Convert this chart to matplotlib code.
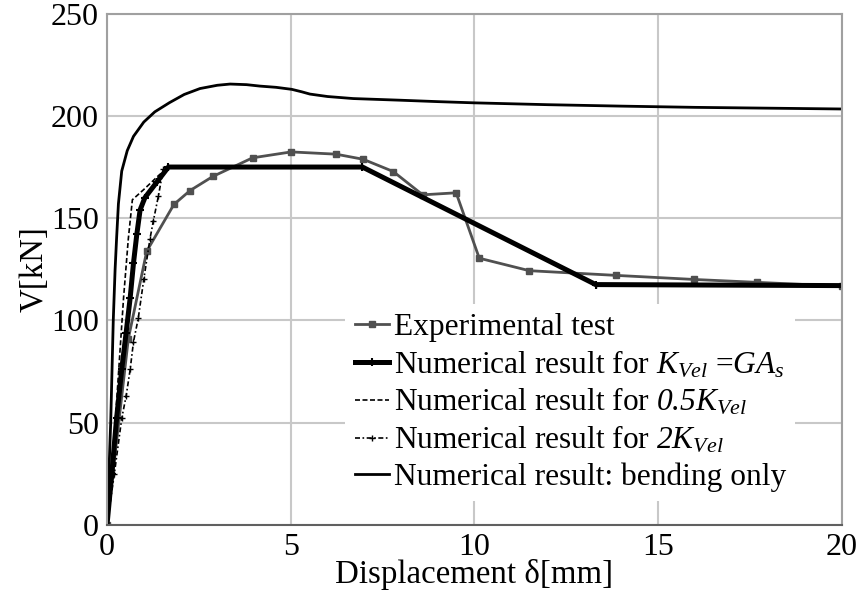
import matplotlib
matplotlib.use("Agg")
import matplotlib.pyplot as plt

plt.rcParams['font.family'] = ['Liberation Serif', 'DejaVu Serif']
plt.rcParams['mathtext.fontset'] = 'custom'
# math only appears in the legend, where everything is italic
plt.rcParams['mathtext.rm'] = 'Liberation Serif:italic'
plt.rcParams['mathtext.it'] = 'Liberation Serif:italic'

# experimental test
exp_x = [0, 0.58, 1.08, 1.82, 2.26, 2.88, 3.96, 5.01, 6.23, 6.97, 7.79, 8.59,
         9.50, 10.13, 11.49, 13.85, 15.98, 17.68, 20.0]
exp_v = [0, 91, 133.8, 156.7, 163.5, 170.4, 179.5, 182.4, 181.3, 178.8, 172.8, 161.4,
         162.4, 130.4, 124.3, 122.0, 120.0, 118.6, 116.7]

# numerical, K_Vel = GA_s
k_x = [0, 0.13, 0.26, 0.40, 0.52, 0.63, 0.72, 0.81, 0.90, 1.03, 1.35, 1.67,
       6.95, 13.3, 20.0]
k_v = [0, 25, 52, 76, 94, 111, 128, 142, 154, 160, 167.5, 175,
       175, 117.5, 117.0]

# numerical, 0.5 K_Vel
half_x = [0, 0.23, 0.45, 0.58, 0.69, 1.0, 1.40, 1.67, 6.95, 13.3, 20.0]
half_v = [0, 52, 111, 140, 159, 164, 170.8, 175, 175, 117.5, 117.0]

# numerical, 2 K_Vel
dbl_x = [0, 0.2, 0.4, 0.52, 0.63, 0.72, 0.85, 1.0, 1.17, 1.26, 1.40, 1.53, 1.67,
         6.95, 13.3, 20.0]
dbl_v = [0, 25, 52, 63, 76, 89.5, 101, 120, 140, 148.6, 161, 174, 175,
         175, 117.5, 117.0]

# numerical, bending only
bend_x = [0, 0.1, 0.17, 0.22, 0.26, 0.31, 0.4, 0.55, 0.72, 1.0, 1.3, 1.7, 2.1, 2.53,
          3.0, 3.35, 3.8, 4.16, 4.6, 5.03, 5.3, 5.52, 6.0, 6.7, 7.97, 9.0, 10.0,
          12.0, 14.0, 16.0, 18.0, 20.0]
bend_v = [0, 50, 100, 125, 140, 157, 173, 183, 190, 197, 202, 206.5, 210.5, 213.4,
          215, 215.6, 215.3, 214.6, 214, 213, 211.8, 210.7, 209.5, 208.5, 207.7,
          207, 206.4, 205.5, 204.8, 204.2, 203.8, 203.4]

fig = plt.figure(figsize=(8.61, 5.97), dpi=100)
ax = fig.add_axes([0.1243, 0.121, 0.8536, 0.856])

ax.plot(exp_x, exp_v, color='#505050', lw=2, marker='s', ms=5,
        label='Experimental test')
ax.plot(half_x, half_v, color='black', lw=1.2, ls=(0, (3, 1.5)),
        label=r'Numerical result for $0.5K_{Vel}$')
ax.plot(dbl_x, dbl_v, color='black', lw=1.2, ls=(0, (3, 1.5, 1, 1.5)),
        marker='+', ms=5, mew=1,
        label=r'Numerical result for $2K_{Vel}$')
ax.plot(k_x, k_v, color='black', lw=3.6, marker='+', ms=6, mew=1.5,
        label=r'Numerical result for $K_{Vel}$ =$GA_s$')
ax.plot(bend_x, bend_v, color='black', lw=2,
        label='Numerical result: bending only')

ax.set_xlim(0, 20)
ax.set_ylim(0, 250)
ax.set_xticks([0, 5, 10, 15, 20])
ax.set_yticks([0, 50, 100, 150, 200, 250])
ax.grid(True, color='#c8c8c8', lw=1.5)
ax.set_axisbelow(True)
ax.tick_params(length=0, labelsize=23, pad=6)
for s in ['left', 'top', 'right']:
    ax.spines[s].set_color('#a0a0a0')
    ax.spines[s].set_linewidth(1.5)
ax.spines['bottom'].set_color('#606060')
ax.spines['bottom'].set_linewidth(1.5)

ax.set_xlabel(u'Displacement \u03b4[mm]', fontsize=23.7, labelpad=-2)
ax.set_ylabel('V[kN]', fontsize=23.7, labelpad=1)

h, l = ax.get_legend_handles_labels()
order = [0, 3, 1, 2, 4]
ax.legend([h[i] for i in order], [l[i] for i in order],
          loc='upper left', bbox_to_anchor=(0.324, 0.432), fontsize=22.6,
          frameon=True, framealpha=1, edgecolor='none', fancybox=False,
          handlelength=1.1, handletextpad=0.15, labelspacing=0.2,
          borderpad=0.3, borderaxespad=0)

fig.savefig('out.png', dpi=100)
